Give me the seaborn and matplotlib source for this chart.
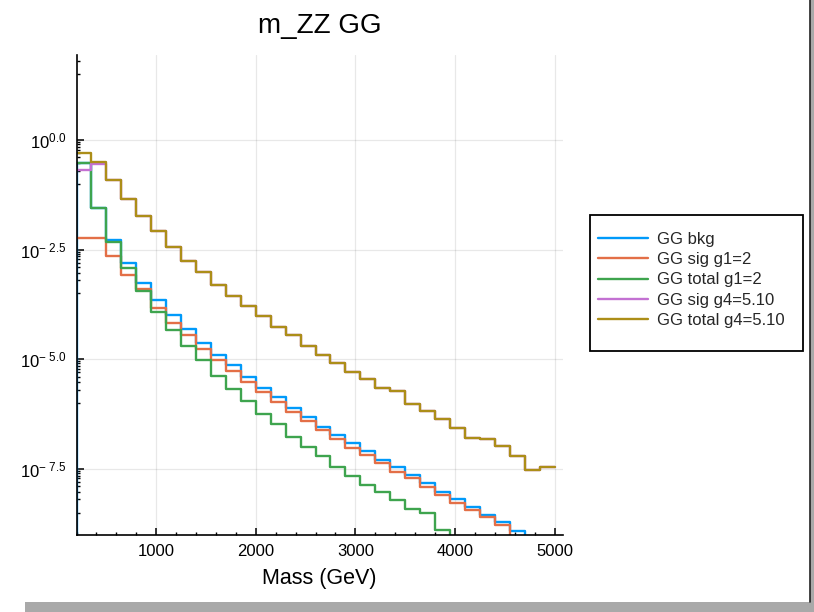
import numpy as np
import pandas as pd
import matplotlib
matplotlib.use("Agg")
import matplotlib.pyplot as plt
import seaborn as sns
from matplotlib import font_manager
from matplotlib.patches import Rectangle
from matplotlib.lines import Line2D
from matplotlib.ticker import FixedLocator, FixedFormatter, MultipleLocator

# ---- data: m_ZZ histograms, 150 GeV bins from 200 to 5000 GeV ----
# values are log10(entries per bin); None marks an empty bin
mass_edges = np.arange(200, 5001, 150)

bkg_log10 = [-0.53, -1.54, -2.28, -2.80, -3.26, -3.65, -4.00, -4.32, -4.62, -4.91,
             -5.13, -5.41, -5.65, -5.87, -6.11, -6.32, -6.55, -6.72, -6.92, -7.10,
             -7.29, -7.47, -7.65, -7.83, -8.02, -8.19, -8.37, -8.55, -8.71, -8.91,
             None, None]
sig_g1_log10 = [-2.245, -2.245, -2.64, -3.08, -3.40, -3.84, -4.17, -4.45, -4.76, -5.02,
                -5.27, -5.53, -5.75, -5.97, -6.20, -6.41, -6.62, -6.81, -7.02, -7.18,
                -7.38, -7.57, -7.72, -7.92, -8.11, -8.28, -8.45, -8.61, -8.79, None,
                None, None]
total_g1_log10 = [-0.53, -1.54, -2.32, -2.92, -3.45, -3.92, -4.34, -4.70, -5.02, -5.39,
                  -5.67, -5.95, -6.24, -6.47, -6.77, -7.00, -7.20, -7.47, -7.67, -7.88,
                  -8.04, -8.22, -8.41, -8.52, -8.89, None, None, None, None, None,
                  None, None]
sig_g4_log10 = [-0.68, -0.54, -0.91, -1.34, -1.74, -2.08, -2.44, -2.76, -3.02, -3.31,
                -3.55, -3.78, -4.02, -4.26, -4.45, -4.70, -4.90, -5.08, -5.29, -5.46,
                -5.65, -5.73, -6.03, -6.19, -6.37, -6.56, -6.80, -6.81, -6.98, -7.21,
                -7.52, -7.47]
total_g4_log10 = [-0.30, -0.50, -0.91, -1.34, -1.74, -2.08, -2.44, -2.76, -3.02, -3.31,
                  -3.55, -3.78, -4.02, -4.26, -4.45, -4.70, -4.90, -5.08, -5.29, -5.46,
                  -5.65, -5.73, -6.03, -6.19, -6.37, -6.56, -6.80, -6.81, -6.98, -7.21,
                  -7.52, -7.47]

series_names = ["GG bkg", "GG sig g1=2", "GG total g1=2", "GG sig g4=5.10", "GG total g4=5.10"]
series_values = [bkg_log10, sig_g1_log10, total_g1_log10, sig_g4_log10, total_g4_log10]
series_colors = ["#009AFA", "#E36F47", "#3EA44E", "#C371D2", "#AC8E18"]

y_tick_exponents = [0.0, -2.5, -5.0, -7.5]
x_ticks = [1000, 2000, 3000, 4000, 5000]

# ---- style ----
sns.set_theme(style="white")
names = {f.name for f in font_manager.fontManager.ttflist}
base_font = "Liberation Sans" if "Liberation Sans" in names else "DejaVu Sans"
plt.rcParams["font.family"] = [base_font, "DejaVu Sans"]
plt.rcParams["mathtext.fontset"] = "custom"
plt.rcParams["mathtext.rm"] = base_font
plt.rcParams["mathtext.it"] = base_font

W, H = 814, 612
fig = plt.figure(figsize=(W / 100, H / 100), dpi=100)
fig.patch.set_facecolor("white")
ax = fig.add_axes([76.5 / W, 1 - 534.5 / H, (563 - 76.5) / W, (534.5 - 55) / H])

floor = 1e-12  # empty bins fall below the visible range


def step_frame(vals, rise_from_floor=False):
    heights = [floor if v is None else 10.0 ** v for v in vals]
    xs = list(mass_edges)
    ys = heights + [heights[-1]]
    if rise_from_floor:
        xs = [mass_edges[0]] + xs
        ys = [floor] + ys
    return pd.DataFrame({"mass": xs, "value": ys})


for i, (name, vals, col) in enumerate(zip(series_names, series_values, series_colors)):
    df = step_frame(vals, rise_from_floor=(i == 0))
    sns.lineplot(data=df, x="mass", y="value", ax=ax, color=col, linewidth=1.7,
                 drawstyle="steps-post", estimator=None, sort=False, label=name,
                 legend=False)

ax.set_yscale("log")
ax.set_xlim(200, 5085)
ax.set_ylim(10 ** -9.0, 10 ** 1.94)

# ticks
ax.xaxis.set_major_locator(FixedLocator(x_ticks))
ax.xaxis.set_minor_locator(MultipleLocator(200))
ax.set_xticklabels([str(t) for t in x_ticks])

major_y = [10.0 ** e for e in y_tick_exponents]


def exp_label(e):
    s = f"{abs(e):.1f}"
    if e < 0:
        return r"10$^{-\ " + s + "}$"
    return r"10$^{" + s + "}$"


ax.yaxis.set_major_locator(FixedLocator(major_y))
ax.yaxis.set_major_formatter(FixedFormatter([exp_label(e) for e in y_tick_exponents]))
minor_y = [10.0 ** m * k / 10 for m in [2.5] + y_tick_exponents for k in range(1, 10)]
ax.yaxis.set_minor_locator(FixedLocator(minor_y))
ax.yaxis.set_minor_formatter(FixedFormatter([""] * len(minor_y)))

ax.tick_params(axis="both", which="major", direction="in", length=5, width=1.1,
               color="black", labelsize=12, labelcolor="black", pad=7)
ax.tick_params(axis="both", which="minor", direction="in", length=2.5, width=1.0,
               color="black")
ax.tick_params(axis="y", which="both", left=True)
ax.tick_params(axis="x", which="both", bottom=True)

ax.grid(True, which="major", color="black", alpha=0.09, linewidth=0.9)
for side in ("top", "right"):
    ax.spines[side].set_visible(False)
for side in ("left", "bottom"):
    ax.spines[side].set_color("black")
    ax.spines[side].set_linewidth(1.2)

ax.set_xlabel("Mass (GeV)", fontsize=15.5, color="black", labelpad=6)
ax.set_ylabel("")
ax.set_title("m_ZZ GG", fontsize=20, color="black", pad=15.5)

# legend: entries placed inside a plain black box to the right of the axes
box_l, box_t, box_r, box_b = 590, 215, 802.5, 350.5
fig.patches.append(Rectangle((box_l / W, 1 - box_b / H), (box_r - box_l) / W,
                             (box_b - box_t) / H, transform=fig.transFigure,
                             facecolor="white", edgecolor="black", linewidth=1.3,
                             zorder=4))
handles = [Line2D([0], [0], color=c, linewidth=1.7) for c in series_colors]
leg = fig.legend(handles, series_names, loc="upper left",
                 bbox_to_anchor=(598 / W, 1 - 232 / H), bbox_transform=fig.transFigure,
                 frameon=False, fontsize=12, handlelength=3.0, handletextpad=0.55,
                 labelspacing=0.31, borderpad=0, borderaxespad=0)
leg.set_zorder(5)

# page edge shading along the bottom and right side
fig.patches.append(Rectangle((25 / W, 0), 1 - 25 / W, 10 / H, transform=fig.transFigure,
                             facecolor="#a9a9a9", edgecolor="none", zorder=10))
fig.patches.append(Rectangle((810 / W, 0), 4 / W, 1, transform=fig.transFigure,
                             facecolor="#a9a9a9", edgecolor="none", zorder=10))
fig.lines.append(Line2D([809.5 / W, 809.5 / W], [10 / H, 1], transform=fig.transFigure,
                        color="#222222", linewidth=1.2, zorder=11))

fig.savefig("out.png", dpi=100, facecolor="white")
